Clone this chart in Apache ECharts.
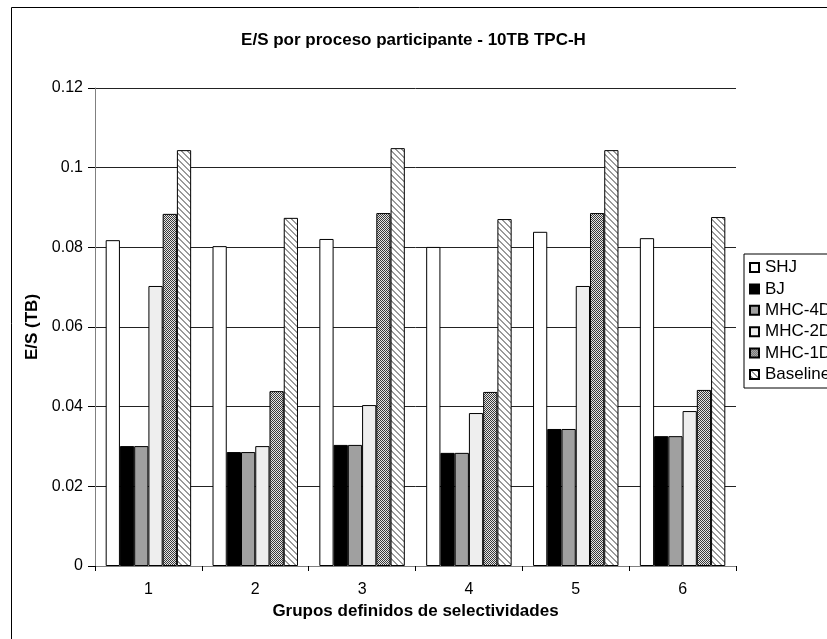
<!DOCTYPE html>
<html>
<head>
<meta charset="utf-8">
<script src="https://cdn.jsdelivr.net/npm/echarts@6/dist/echarts.min.js"></script>
<style>
html, body { margin: 0; padding: 0; background: #fff; }
#chart { width: 827px; height: 639px; }
</style>
</head>
<body>
<div id="chart"></div>
<script>
var categories = ['1', '2', '3', '4', '5', '6'];
var seriesNames = ['SHJ', 'BJ', 'MHC-4D', 'MHC-2D', 'MHC-1D', 'Baseline'];
var shj      = [0.0818, 0.0803, 0.0821, 0.0801, 0.0839, 0.0823];
var bj       = [0.0301, 0.0286, 0.0304, 0.0284, 0.0344, 0.0326];
var mhc4d    = [0.0301, 0.0286, 0.0304, 0.0284, 0.0344, 0.0326];
var mhc2d    = [0.0703, 0.0301, 0.0404, 0.0384, 0.0703, 0.0389];
var mhc1d    = [0.0884, 0.0439, 0.0886, 0.0437, 0.0886, 0.0442];
var baseline = [0.1044, 0.0874, 0.1049, 0.0871, 0.1044, 0.0876];
var yTicks = [0, 0.02, 0.04, 0.06, 0.08, 0.1, 0.12];

// patrones de relleno
function checkerPattern(){
	var c = document.createElement('canvas');
	c.width = 4; c.height = 4;
	var ctx = c.getContext('2d');
	ctx.fillStyle = '#e6e6e6';
	ctx.fillRect(0, 0, 4, 4);
	ctx.fillStyle = '#3a3a3a';
	ctx.fillRect(0, 0, 1, 1); ctx.fillRect(2, 0, 1, 1);
	ctx.fillRect(1, 1, 1, 1); ctx.fillRect(3, 1, 1, 1);
	ctx.fillRect(0, 2, 4, 2);
	ctx.fillStyle = '#e6e6e6';
	ctx.fillRect(1, 2, 1, 1); ctx.fillRect(3, 2, 1, 1);
	ctx.fillRect(0, 3, 1, 1); ctx.fillRect(2, 3, 1, 1);
	return c;
}
function stripePattern(){
	var n = 6;
	var c = document.createElement('canvas');
	c.width = n; c.height = n;
	var ctx = c.getContext('2d');
	ctx.fillStyle = '#ffffff';
	ctx.fillRect(0, 0, n, n);
	ctx.fillStyle = '#9a9a9a';
	for(var y = 0; y < n; y++){
		for(var x = 0; x < n; x++){
			var d = (x - y + n) % n;
			if(d < 2){
				ctx.fillRect(x, y, 1, 1);
			}
		}
	}
	return c;
}

var fills = [
	'#ffffff',
	'#000000',
	'#a0a0a0',
	'#eeeeee',
	{ image: checkerPattern(), repeat: 'repeat' },
	{ image: stripePattern(), repeat: 'repeat' }
];
var dataList = [shj, bj, mhc4d, mhc2d, mhc1d, baseline];

var series = [];
for(var i = 0; i < seriesNames.length; i++){
	series.push({
		name: seriesNames[i],
		type: 'bar',
		data: dataList[i],
		barGap: '0%',
		barCategoryGap: '20%',
		itemStyle: { color: fills[i], borderColor: '#000', borderWidth: 1 },
		emphasis: { disabled: true }
	});
}

var chart = echarts.init(document.getElementById('chart'), null, { renderer: 'canvas' });
var font = 'Liberation Sans, Arial, Helvetica, sans-serif';
chart.setOption({
	animation: false,
	backgroundColor: '#fff',
	textStyle: { fontFamily: font },
	title: {
		text: 'E/S por proceso participante - 10TB TPC-H',
		left: 'center',
		top: 27,
		textStyle: { fontFamily: font, fontSize: 17, fontWeight: 'bold', color: '#000' }
	},
	graphic: [{
		type: 'rect',
		shape: { x: 11.5, y: 7.5, width: 900, height: 700 },
		style: { fill: 'none', stroke: '#000', lineWidth: 1 },
		silent: true
	}],
	legend: {
		orient: 'vertical',
		left: 744,
		top: 254,
		itemWidth: 9,
		itemHeight: 9,
		itemGap: 4.4,
		padding: [5, 20, 5, 5],
		borderColor: '#000',
		borderWidth: 1,
		backgroundColor: '#fff',
		icon: 'rect',
		textStyle: { fontFamily: font, fontSize: 17, lineHeight: 17, color: '#000', padding: [0, 0, 0, 1] },
		data: seriesNames
	},
	grid: { left: 95, right: 91, top: 88, bottom: 73, containLabel: false },
	xAxis: {
		type: 'category',
		data: categories,
		name: 'Grupos definidos de selectividades',
		nameLocation: 'middle',
		nameGap: 35,
		nameTextStyle: { fontFamily: font, fontSize: 17, fontWeight: 'bold', color: '#000' },
		axisLine: { lineStyle: { color: '#808080', width: 1 } },
		axisTick: { show: true, length: 5, inside: false, lineStyle: { color: '#000' } },
		axisLabel: { fontFamily: font, fontSize: 16, color: '#000', margin: 16 },
		splitLine: { show: false }
	},
	yAxis: {
		type: 'value',
		min: 0,
		max: 0.12,
		interval: 0.02,
		name: 'E/S (TB)',
		nameLocation: 'middle',
		nameGap: 53,
		nameTextStyle: { fontFamily: font, fontSize: 17, fontWeight: 'bold', color: '#000' },
		axisLine: { show: true, lineStyle: { color: '#808080', width: 1 } },
		axisTick: { show: true, length: 7, lineStyle: { color: '#000' } },
		axisLabel: {
			fontFamily: font, fontSize: 16, color: '#000', margin: 12,
			formatter: function(v){
				var t = yTicks.filter(function(k){ return Math.abs(k - v) < 1e-9; });
				return t.length ? String(t[0]) : '';
			}
		},
		splitLine: { show: true, lineStyle: { color: '#222', width: 1 } }
	},
	series: series
});
</script>
</body>
</html>
